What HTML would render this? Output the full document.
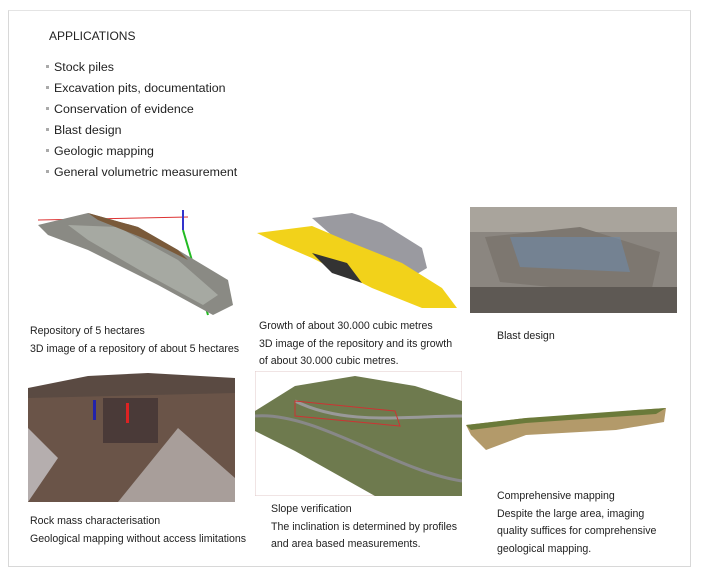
<!DOCTYPE html>
<html><head><style>
body{margin:0;width:702px;height:576px;background:#fff;font-family:"Liberation Sans",sans-serif;color:#222;position:relative;overflow:hidden}
.box{position:absolute;left:8px;top:10px;width:681px;height:555px;border:1px solid #d8d8d8;border-top-color:#e4e4e4}
.t{position:absolute;font-size:10.6px;white-space:nowrap;color:#222}
.l{position:absolute;font-size:12.4px;white-space:nowrap;color:#222;left:46px}
.l:before{content:"";display:inline-block;width:3px;height:3px;background:#aaa;margin-right:5px;vertical-align:3px}
svg{position:absolute}
</style></head><body>
<div class="box"></div>
<div class="t" style="left:49px;top:29px;font-size:12px">APPLICATIONS</div>
<div class="l" style="top:60px">Stock piles</div>
<div class="l" style="top:81px">Excavation pits, documentation</div>
<div class="l" style="top:102px">Conservation of evidence</div>
<div class="l" style="top:123px">Blast design</div>
<div class="l" style="top:144px">Geologic mapping</div>
<div class="l" style="top:165px">General volumetric measurement</div>

<svg style="left:28px;top:205px" width="212" height="115">
<line x1="10" y1="15" x2="160" y2="12" stroke="#d33" stroke-width="1"/>
<line x1="155" y1="5" x2="155" y2="25" stroke="#33c" stroke-width="2"/>
<line x1="155" y1="25" x2="180" y2="110" stroke="#2b2" stroke-width="2"/>
<polygon points="10,20 60,8 110,22 150,45 200,75 205,100 185,110 130,80 60,45 20,30" fill="#8a8a84"/>
<polygon points="40,20 90,22 150,55 190,90 175,100 120,70 60,35" fill="#a6a9a2"/>
<polygon points="60,8 110,22 150,45 160,55 120,35 70,15" fill="#7a5a3a"/>
</svg>
<svg style="left:252px;top:208px" width="208" height="102">
<polygon points="60,10 100,5 130,15 170,40 175,60 150,75 100,45" fill="#9a9aa0"/>
<polygon points="5,25 60,18 100,35 150,55 190,80 205,100 170,100 120,80 60,50 25,35" fill="#f2d21a"/>
<polygon points="60,45 95,55 110,75 80,65" fill="#333"/>
</svg>
<svg style="left:470px;top:207px" width="207" height="106">
<rect width="207" height="106" fill="#8b8680"/>
<rect width="207" height="25" fill="#a9a49c"/>
<polygon points="15,30 110,20 190,45 180,90 30,75" fill="#7d7770"/>
<polygon points="40,30 150,30 160,65 50,60" fill="#6e8aa8" opacity=".6"/>
<rect y="80" width="207" height="26" fill="#5e5954"/>
</svg>
<div class="t" style="left:30px;top:325px">Repository of 5 hectares</div>
<div class="t" style="left:30px;top:343px">3D image of a repository of about 5 hectares</div>
<div class="t" style="left:259px;top:320px">Growth of about 30.000 cubic metres</div>
<div class="t" style="left:259px;top:338px">3D image of the repository and its growth</div>
<div class="t" style="left:259px;top:355px">of about 30.000 cubic metres.</div>
<div class="t" style="left:497px;top:330px">Blast design</div>

<svg style="left:28px;top:368px" width="207" height="134">
<rect width="207" height="134" fill="#6a5448"/>
<rect y="0" width="207" height="20" fill="#fff"/>
<polygon points="0,20 60,8 120,5 207,10 207,25 0,30" fill="#5a4a42"/>
<polygon points="0,60 30,90 0,134" fill="#b5aeae"/>
<polygon points="90,134 150,60 207,110 207,134" fill="#a89e9a"/>
<rect x="75" y="30" width="55" height="45" fill="#4a3a38"/>
<rect x="98" y="35" width="3" height="20" fill="#d22"/>
<rect x="65" y="32" width="3" height="20" fill="#22a"/>
</svg>
<svg style="left:255px;top:371px" width="207" height="125">
<rect width="207" height="125" fill="#fff" stroke="#e0c8c8"/>
<polygon points="0,40 40,15 100,5 160,15 207,30 207,125 120,125 40,80 0,60" fill="#6e7a4e"/>
<path d="M0,45 C60,40 140,100 207,110" stroke="#888" stroke-width="3" fill="none"/>
<path d="M40,30 C90,55 150,45 207,45" stroke="#999" stroke-width="3" fill="none"/>
<polygon points="40,30 140,40 145,55 40,45" fill="none" stroke="#c33"/>
</svg>
<svg style="left:466px;top:400px" width="202" height="52">
<polygon points="0,25 60,18 120,15 170,10 200,8 198,22 150,30 60,35 20,50 5,35" fill="#b39a6a"/>
<polygon points="0,25 60,18 170,10 200,8 190,14 60,23 5,30" fill="#6b7a3a"/>
</svg>
<div class="t" style="left:30px;top:515px">Rock mass characterisation</div>
<div class="t" style="left:30px;top:533px">Geological mapping without access limitations</div>
<div class="t" style="left:271px;top:503px">Slope verification</div>
<div class="t" style="left:271px;top:521px">The inclination is determined by profiles</div>
<div class="t" style="left:271px;top:538px">and area based measurements.</div>
<div class="t" style="left:497px;top:490px">Comprehensive mapping</div>
<div class="t" style="left:497px;top:508px">Despite the large area, imaging</div>
<div class="t" style="left:497px;top:525px">quality suffices for comprehensive</div>
<div class="t" style="left:497px;top:543px">geological mapping.</div>
</body></html>
